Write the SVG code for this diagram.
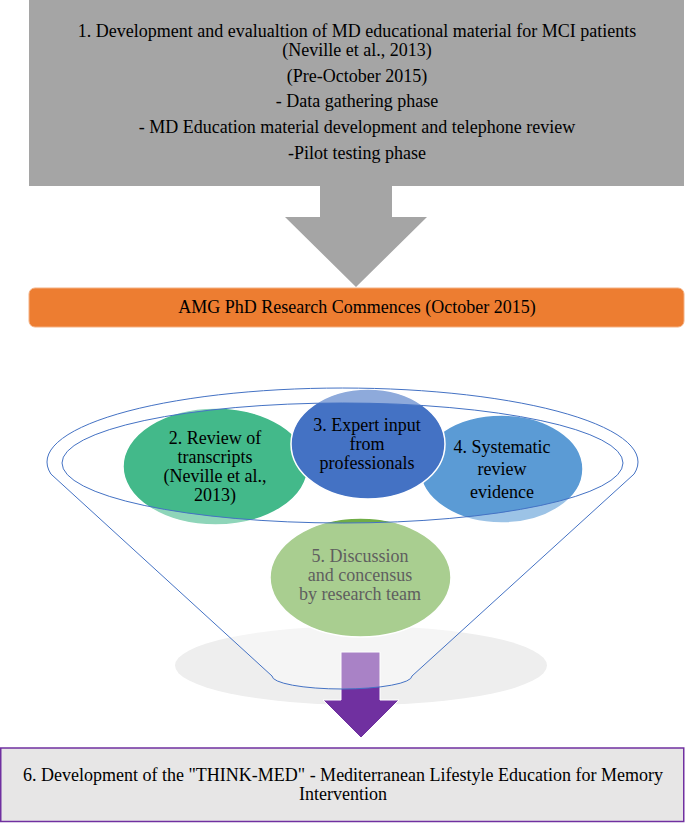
<svg xmlns="http://www.w3.org/2000/svg" width="685" height="823" viewBox="0 0 685 823">
<defs>
<style>
text{font-family:"Liberation Serif","Times New Roman",serif;font-size:18px;fill:#000;text-anchor:middle}
.c{stroke:#fff;stroke-width:1.5}
.fl{fill:none;stroke:#4472C4;stroke-width:1}
</style>
</defs>
<rect width="685" height="823" fill="#fff"/>
<g id="node1">
<rect x="29" y="0" width="655" height="186" fill="#A5A5A5"/>
<text x="357" y="37">1. Development and evalualtion of MD educational material for MCI patients</text>
<text x="357" y="56">(Neville et al., 2013)</text>
<text x="357" y="82">(Pre-October 2015)</text>
<text x="357" y="107">- Data gathering phase</text>
<text x="357" y="133">- MD Education material development and telephone review</text>
<text x="357" y="159">-Pilot testing phase</text>
</g>
<g id="connectors">
<polygon points="320,186 392,186 392,217 427,217 356,287 285,217 320,217" fill="#A5A5A5"/>
</g>
<g id="node-amg">
<rect x="29" y="288" width="655" height="39" rx="6" fill="#ED7D31" stroke="#F4B183" stroke-width="1"/>
<text x="357" y="313">AMG PhD Research Commences (October 2015)</text>
</g>
<g id="funnel">
<ellipse cx="361" cy="665.5" rx="186" ry="39.5" fill="#EEEEEE"/>
<polygon id="arrow6" points="341,652 380,652 380,700 399,700 361,738 323,700 341,700" fill="#7030A0" stroke="#fff" stroke-width="1"/>
<g id="node5"><ellipse class="c" cx="360.5" cy="577.5" rx="90.5" ry="59.5" fill="#70AD47"/></g>
<g id="node2"><ellipse class="c" cx="215.5" cy="466.5" rx="92.5" ry="58.5" fill="#43B98A"/></g>
<g id="node4"><ellipse class="c" cx="501.5" cy="469" rx="81.5" ry="54" fill="#5B9BD5"/></g>
<g id="node3"><ellipse class="c" cx="368" cy="444" rx="77" ry="55" fill="#4472C4"/></g>
<path fill="#fff" fill-opacity="0.4" fill-rule="evenodd" d="M50.9 474 A295.5 74 0 1 1 634.1 474 L412 676 A70 13 0 0 1 272 676 Z M62 463 A280.5 60 0 1 0 623 463 A280.5 60 0 1 0 62 463 Z"/>
<path class="fl" d="M50.9 474 A295.5 74 0 1 1 634.1 474 L412 676 A70 13 0 0 1 272 676 Z"/>
<ellipse class="fl" cx="342.5" cy="463" rx="280.5" ry="60"/>
<text x="215" y="444">2. Review of</text>
<text x="215" y="463">transcripts</text>
<text x="215" y="482">(Neville et al.,</text>
<text x="215" y="501">2013)</text>
<text x="367" y="431">3. Expert input</text>
<text x="367" y="450">from</text>
<text x="367" y="469">professionals</text>
<text x="502" y="453">4. Systematic</text>
<text x="502" y="475">review</text>
<text x="502" y="498">evidence</text>
<text x="360" y="562" style="fill:#5F5F5F">5. Discussion</text>
<text x="360" y="581" style="fill:#5F5F5F">and concensus</text>
<text x="360" y="600" style="fill:#5F5F5F">by research team</text>
</g>
<g id="node6">
<rect x="0.75" y="748" width="683" height="73.5" fill="#E7E6E6" stroke="#7030A0" stroke-width="1.5"/>
<text x="343" y="781">6. Development of the "THINK-MED" - Mediterranean Lifestyle Education for Memory</text>
<text x="343" y="800">Intervention</text>
</g>
</svg>
